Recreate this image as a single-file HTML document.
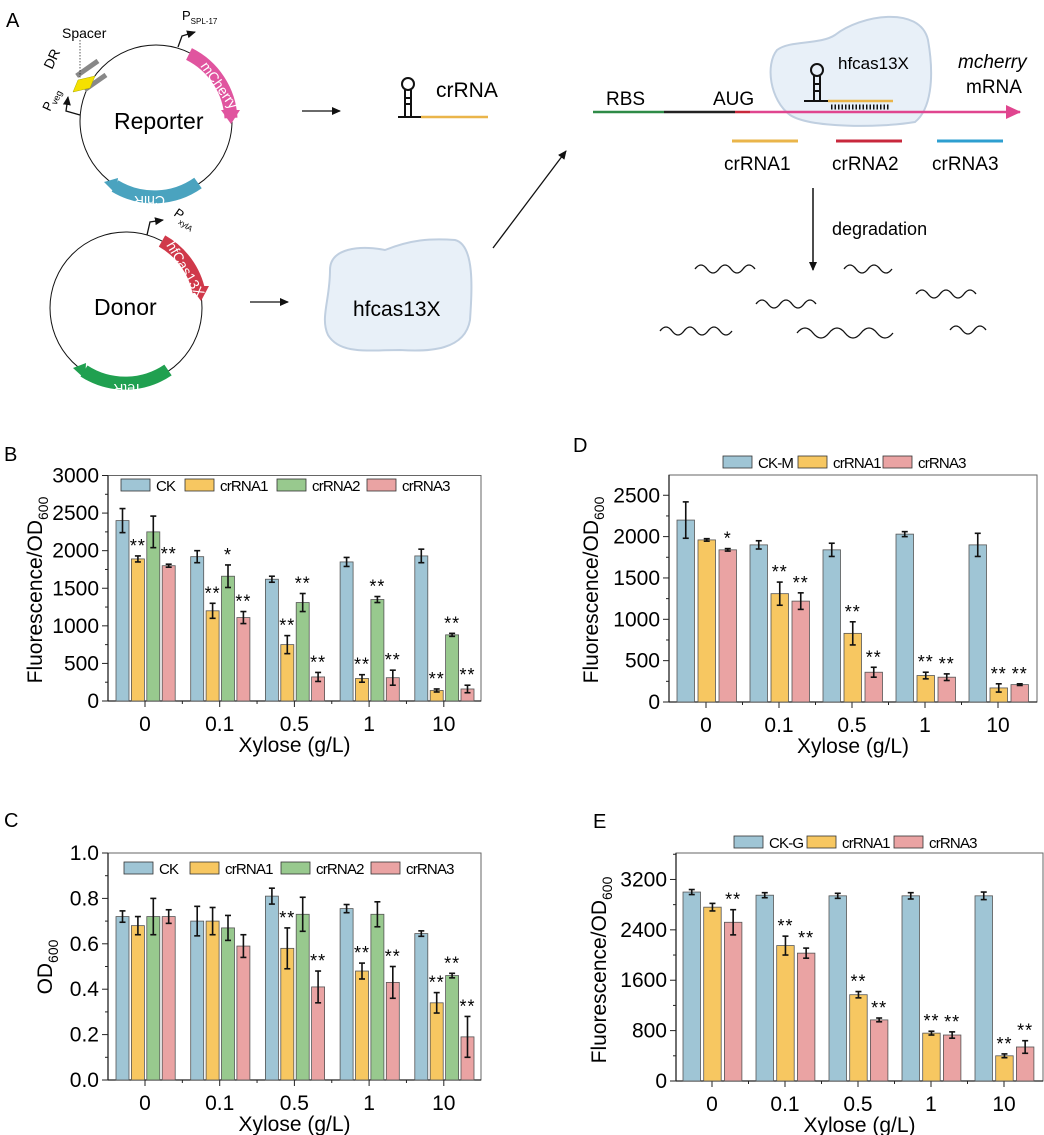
<!DOCTYPE html>
<html><head><meta charset="utf-8">
<style>
html,body{margin:0;padding:0;background:#fff;}
svg{display:block;font-family:"Liberation Sans",Arial,sans-serif;}
</style></head>
<body>
<svg id="s" width="1044" height="1135" viewBox="0 0 1044 1135" xmlns="http://www.w3.org/2000/svg">
<defs>
<marker id="ah" markerWidth="10" markerHeight="10" refX="8" refY="5" orient="auto" markerUnits="userSpaceOnUse"><path d="M0,1 L9,5 L0,9 Z" fill="#111"/></marker>
<marker id="ahp" markerWidth="16" markerHeight="14" refX="14" refY="7" orient="auto" markerUnits="userSpaceOnUse"><path d="M0,0 L15,7 L0,14 Z" fill="#e0458f"/></marker>
</defs>
<g font-size="20">
<text x="6" y="27">A</text>
<text x="4" y="461">B</text>
<text x="4" y="827">C</text>
<text x="573" y="452">D</text>
<text x="593" y="828">E</text>
</g>
<circle cx="156" cy="121" r="76" fill="none" stroke="#111" stroke-width="1"/>
<path d="M189,54 A76,76 0 0 1 231,118" fill="none" stroke="#e0559f" stroke-width="13"/>
<path d="M221,110 L240,110 L231,124 Z" fill="#e0559f"/>
<text x="0" y="0" font-size="14" fill="#fff" transform="translate(200,66) rotate(55)">mCherry</text>
<path d="M198,183 A76,76 0 0 1 115,186" fill="none" stroke="#4aa3bf" stroke-width="13"/>
<path d="M118,178 L104,182 L116,194 Z" fill="#4aa3bf"/>
<text x="0" y="0" font-size="14" fill="#fff" transform="translate(165,196) rotate(180)">ChlR</text>
<text x="114" y="129" font-size="23">Reporter</text>
<rect x="74" y="66" width="26" height="5" fill="#888" transform="rotate(-35 87 68)"/>
<rect x="82" y="80" width="26" height="5" fill="#888" transform="rotate(-35 95 82)"/>
<path d="M78,80 L95,76 L90,88 L73,92 Z" fill="#f5e100" stroke="#aa0" stroke-width=".5"/>
<text x="62" y="38" font-size="14">Spacer</text>
<path d="M80,40 L80,78" stroke="#111" stroke-width=".7" stroke-dasharray="1.5 1.5"/>
<text x="0" y="0" font-size="14" transform="translate(52,70) rotate(-65)">DR</text>
<text x="0" y="0" font-size="13" transform="translate(50,112) rotate(-65)">P<tspan font-size="9" dy="3">veg</tspan></text>
<path d="M80,115 L66,111 L68,97" fill="none" stroke="#111" stroke-width="1.3" marker-end="url(#ah)"/>
<path d="M178,47 L182,36 L195,32" fill="none" stroke="#111" stroke-width="1.3" marker-end="url(#ah)"/>
<text x="182" y="20" font-size="13">P<tspan font-size="8" dy="4">SPL-17</tspan></text>
<circle cx="126" cy="308" r="76" fill="none" stroke="#111" stroke-width="1"/>
<path d="M162,241 A76,76 0 0 1 199,292" fill="none" stroke="#d0394a" stroke-width="13"/>
<path d="M190,286 L209,286 L201,301 Z" fill="#d0394a"/>
<text x="0" y="0" font-size="14" fill="#fff" transform="translate(166,245) rotate(60)">hfCas13X</text>
<path d="M168,370 A76,76 0 0 1 84,371" fill="none" stroke="#20a050" stroke-width="13"/>
<path d="M86,363 L73,368 L85,379 Z" fill="#20a050"/>
<text x="0" y="0" font-size="14" fill="#fff" transform="translate(142,384) rotate(180)">TetR</text>
<text x="94" y="315" font-size="23">Donor</text>
<path d="M147,235 L150,222 L163,220" fill="none" stroke="#111" stroke-width="1.3" marker-end="url(#ah)"/>
<text x="0" y="0" font-size="13" transform="translate(173,215) rotate(35)">P<tspan font-size="8" dy="4">xylA</tspan></text>
<line x1="302" y1="111" x2="340" y2="111" stroke="#111" stroke-width="1.3" marker-end="url(#ah)"/>
<line x1="250" y1="302" x2="288" y2="302" stroke="#111" stroke-width="1.3" marker-end="url(#ah)"/>
<line x1="493" y1="248" x2="566" y2="151" stroke="#111" stroke-width="1.3" marker-end="url(#ah)"/>
<g stroke="#111" stroke-width="2" fill="none"><circle cx="408" cy="84" r="6"/><line x1="405" y1="90" x2="405" y2="117"/><line x1="411" y1="90" x2="411" y2="117"/><line x1="405" y1="98" x2="411" y2="98"/><line x1="405" y1="104" x2="411" y2="104"/><line x1="398" y1="117" x2="421" y2="117"/></g>
<line x1="421" y1="117" x2="488" y2="117" stroke="#eab54a" stroke-width="2.5"/>
<text x="436" y="97" font-size="21">crRNA</text>
<path d="M330,270 C330,248 360,245 385,250 C410,240 430,238 455,240 C475,245 472,290 470,320 C465,350 430,352 400,350 C370,350 340,355 328,335 C320,318 330,300 330,270 Z" fill="#e8f0f8" stroke="#c0cfe0" stroke-width="2"/>
<text x="353" y="316" font-size="21">hfcas13X</text>
<path d="M777,50 C790,40 820,45 835,35 C860,15 920,5 928,40 C935,80 930,110 915,122 C880,128 810,128 790,115 C770,100 765,65 777,50 Z" fill="#e8f0f8" stroke="#c0cfe0" stroke-width="2"/>
<line x1="593" y1="112" x2="664" y2="112" stroke="#2e8b47" stroke-width="2.5"/>
<line x1="664" y1="112" x2="735" y2="112" stroke="#222" stroke-width="2.5"/>
<line x1="735" y1="112" x2="750" y2="112" stroke="#c8283c" stroke-width="2.5"/>
<line x1="750" y1="112" x2="1020" y2="112" stroke="#e0458f" stroke-width="2.5" marker-end="url(#ahp)"/>
<text x="606" y="105" font-size="19">RBS</text>
<text x="713" y="105" font-size="19">AUG</text>
<g stroke="#111" stroke-width="2" fill="none"><circle cx="817" cy="70" r="6"/><line x1="814" y1="76" x2="814" y2="101"/><line x1="820" y1="76" x2="820" y2="101"/><line x1="814" y1="84" x2="820" y2="84"/><line x1="814" y1="91" x2="820" y2="91"/><line x1="804" y1="101" x2="828" y2="101"/></g>
<line x1="828" y1="101" x2="893" y2="101" stroke="#eab54a" stroke-width="2.5"/>
<line x1="831" y1="107" x2="889" y2="107" stroke="#111" stroke-width="5" stroke-dasharray="1.5 2"/>
<text x="838" y="69" font-size="17">hfcas13X</text>
<text x="958" y="68" font-size="19" font-style="italic">mcherry</text>
<text x="966" y="93" font-size="19">mRNA</text>
<line x1="732" y1="141" x2="798" y2="141" stroke="#eab54a" stroke-width="3"/>
<line x1="836" y1="141" x2="902" y2="141" stroke="#c8283c" stroke-width="3"/>
<line x1="937" y1="141" x2="1003" y2="141" stroke="#2e9fd0" stroke-width="3"/>
<text x="724" y="170" font-size="19">crRNA1</text>
<text x="832" y="170" font-size="19">crRNA2</text>
<text x="932" y="170" font-size="19">crRNA3</text>
<line x1="813" y1="188" x2="813" y2="270" stroke="#111" stroke-width="1.5" marker-end="url(#ah)"/>
<text x="832" y="235" font-size="18">degradation</text>
<g fill="none" stroke="#111" stroke-width="1.3">
<path d="M695,269 q6,-8 12,0 t12,0 t12,0 t12,0 t12,0"/>
<path d="M844,269 q6,-8 12,0 t12,0 t12,0 t12,0"/>
<path d="M916,294 q6,-8 12,0 t12,0 t12,0 t12,0 t12,0"/>
<path d="M756,304 q6,-8 12,0 t12,0 t12,0 t12,0 t12,0"/>
<path d="M660,331 q6,-8 12,0 t12,0 t12,0 t12,0 t12,0 t12,0"/>
<path d="M797,333 q8,-10 16,0 t16,0 t16,0 t16,0 t16,0 t16,0"/>
<path d="M950,330 q6,-8 12,0 t12,0 t12,0"/>
</g>
<g id="charts"></g>
</svg>
<script>
var C={b:'#9fc5d5',y:'#f7c761',g:'#98c98e',p:'#eaa3a3'};
var out='';
function T(x,y,s,sz,anc,extra){return '<text x="'+x+'" y="'+y+'" font-size="'+sz+'" text-anchor="'+(anc||'start')+'" '+(extra||'')+'>'+s+'</text>';}
function chart(o){
 var L=o.L,R=o.R,top=o.top,y0=o.y0,ymax=o.ymax;var sc=(y0-top)/ymax;
 function Y(v){return y0-v*sc;}
 out+='<rect x="'+L+'" y="'+top+'" width="'+(R-L)+'" height="'+(y0-top)+'" fill="none" stroke="#666" stroke-width="1"/>';
 out+='<line x1="'+L+'" y1="'+y0+'" x2="'+R+'" y2="'+y0+'" stroke="#222" stroke-width="1.3"/>';
 out+='<line x1="'+L+'" y1="'+top+'" x2="'+L+'" y2="'+y0+'" stroke="#222" stroke-width="1.3"/>';
 for(var v=0;v<=o.tmax+1e-9;v+=o.step){var yy=Y(v);out+='<line x1="'+(L-6)+'" y1="'+yy+'" x2="'+L+'" y2="'+yy+'" stroke="#222"/>';
  out+=T(L-9,yy+7,o.fmt(v),21,'end');
  var ym=Y(v+o.step/2); if(v+o.step/2<ymax) out+='<line x1="'+(L-3)+'" y1="'+ym+'" x2="'+L+'" y2="'+ym+'" stroke="#222"/>';}
 var labs=['0','0.1','0.5','1','10'];
 for(var i=0;i<5;i++){var cx=o.c0+i*o.gs;out+='<line x1="'+cx+'" y1="'+y0+'" x2="'+cx+'" y2="'+(y0+6)+'" stroke="#222"/>';
  if(i<4){var mx=cx+o.gs/2;out+='<line x1="'+mx+'" y1="'+y0+'" x2="'+mx+'" y2="'+(y0+3)+'" stroke="#222"/>';}
  out+=T(cx,y0+30,labs[i],21,'middle');
  for(var k=0;k<o.ser.length;k++){var s=o.ser[k];var v=s.d[i][0],e=s.d[i][1];var x=cx-o.off+k*o.pitch;
   out+='<rect x="'+x+'" y="'+Y(v)+'" width="'+o.bw+'" height="'+(y0-Y(v))+'" fill="'+s.c+'" stroke="#555" stroke-width=".8"/>';
   var ex=x+o.bw/2;
   if(e>0){out+='<g stroke="#111" stroke-width="1.6"><line x1="'+ex+'" y1="'+Y(v+e)+'" x2="'+ex+'" y2="'+Y(v-e)+'"/><line x1="'+(ex-3)+'" y1="'+Y(v+e)+'" x2="'+(ex+3)+'" y2="'+Y(v+e)+'"/><line x1="'+(ex-3)+'" y1="'+Y(v-e)+'" x2="'+(ex+3)+'" y2="'+Y(v-e)+'"/></g>';}
   var st=s.d[i][2];if(st)out+=T(ex,Y(v+e)-4,st,18,'middle','letter-spacing="1"');
  }}
 out+=T((L+R)/2,y0+51,'Xylose (g/L)',21,'middle');
 out+='<text font-size="21" text-anchor="middle" transform="translate('+o.ylx+','+o.yly+') rotate(-90)">'+o.ylab+'</text>';
 var lg=o.leg;for(var k=0;k<o.ser.length;k++){out+='<rect x="'+lg.x[k]+'" y="'+(lg.y-6)+'" width="'+lg.w+'" height="12" fill="'+o.ser[k].c+'" stroke="#333" stroke-width=".8"/>';
  out+=T(lg.x[k]+lg.w+6,lg.y+6,o.ser[k].n,15,'start','letter-spacing="-0.8"');}
}
var OD='Fluorescence/OD<tspan font-size="14" dy="6">600</tspan>';
chart({L:108,R:481,top:475.5,y0:701,ymax:3000,tmax:3000,step:500,fmt:function(v){return v;},c0:145,gs:74.7,off:29,bw:13,pitch:15.4,
 ylab:OD,ylx:42,yly:590,leg:{x:[121,185,277,367],y:485,w:29},
 ser:[{n:'CK',c:C.b,d:[[2400,160],[1920,80],[1620,40],[1850,60],[1930,90]]},
 {n:'crRNA1',c:C.y,d:[[1890,40,'**'],[1200,100,'**'],[750,120,'**'],[300,50,'**'],[140,20,'**']]},
 {n:'crRNA2',c:C.g,d:[[2250,210],[1660,150,'*'],[1310,120,'**'],[1350,40,'**'],[880,20,'**']]},
 {n:'crRNA3',c:C.p,d:[[1800,20,'**'],[1110,80,'**'],[320,60,'**'],[310,100,'**'],[160,50,'**']]}]});
chart({L:108,R:481,top:853,y0:1080,ymax:1.0,tmax:1.0,step:0.2,fmt:function(v){return v.toFixed(1);},c0:145,gs:74.7,off:29,bw:13,pitch:15.4,
 ylab:'OD<tspan font-size="14" dy="6">600</tspan>',ylx:52,yly:967,leg:{x:[124,190,281,371],y:868,w:29},
 ser:[{n:'CK',c:C.b,d:[[.72,.025],[.70,.065],[.81,.035],[.755,.018],[.645,.012]]},
 {n:'crRNA1',c:C.y,d:[[.68,.04],[.70,.06],[.58,.09,'**'],[.48,.035,'**'],[.34,.045,'**']]},
 {n:'crRNA2',c:C.g,d:[[.72,.08],[.67,.055],[.73,.075],[.73,.055],[.46,.01,'**']]},
 {n:'crRNA3',c:C.p,d:[[.72,.03],[.59,.05],[.41,.07,'**'],[.43,.07,'**'],[.19,.09,'**']]}]});
chart({L:669,R:1037,top:475,y0:702,ymax:2745,tmax:2500,step:500,fmt:function(v){return v;},c0:706,gs:73,off:29,bw:17.5,pitch:21,
 ylab:OD,ylx:598,yly:590,leg:{x:[723,798,883],y:462,w:29},
 ser:[{n:'CK-M',c:C.b,d:[[2200,220],[1900,50],[1840,80],[2030,30],[1900,140]]},
 {n:'crRNA1',c:C.y,d:[[1960,15],[1310,140,'**'],[830,140,'**'],[320,40,'**'],[170,50,'**']]},
 {n:'crRNA3',c:C.p,d:[[1840,15,'*'],[1220,100,'**'],[360,60,'**'],[300,40,'**'],[210,10,'**']]}]});
chart({L:676,R:1043,top:853,y0:1081,ymax:3620,tmax:3200,step:800,fmt:function(v){return v;},c0:712,gs:73,off:29,bw:17.5,pitch:20.7,
 ylab:OD,ylx:606,yly:970,leg:{x:[734,807,894],y:842,w:29},
 ser:[{n:'CK-G',c:C.b,d:[[3000,40],[2950,40],[2940,40],[2940,50],[2940,60]]},
 {n:'crRNA1',c:C.y,d:[[2760,60],[2150,150,'**'],[1370,50,'**'],[760,30,'**'],[400,30,'**']]},
 {n:'crRNA3',c:C.p,d:[[2520,200,'**'],[2030,80,'**'],[970,30,'**'],[730,50,'**'],[540,100,'**']]}]});
document.getElementById('charts').innerHTML=out;
</script>
</body></html>
